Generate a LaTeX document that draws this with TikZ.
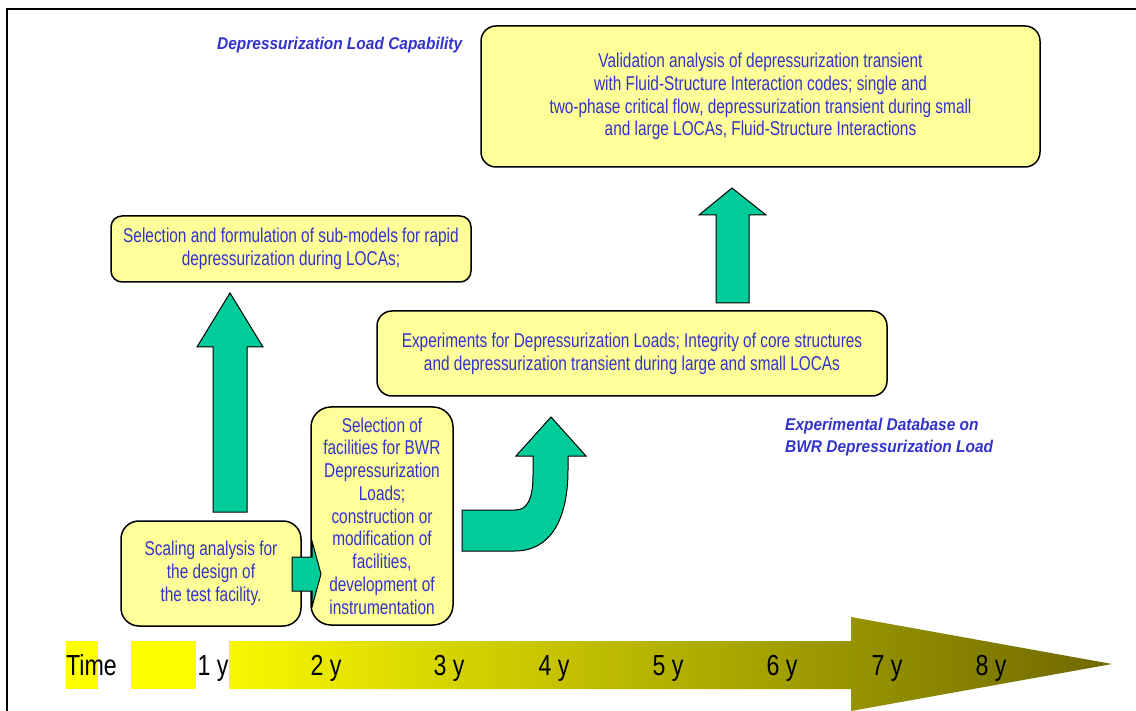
\documentclass[tikz,border=0pt]{standalone}
\usepackage{fontspec}
\setmainfont{Liberation Sans}
\newfontfamily\boxfont[FakeStretch=0.77]{Liberation Sans}
\newfontfamily\tlfont[FakeStretch=0.8]{Liberation Sans}
\newfontfamily\notefont[FakeStretch=0.91]{Liberation Sans}
\usetikzlibrary{calc}
\definecolor{boxfill}{HTML}{FFFF99}
\definecolor{txtblue}{HTML}{3333CC}
\definecolor{arrgreen}{HTML}{00CC99}
\definecolor{tlstart}{RGB}{248,248,0}
\definecolor{tlend}{RGB}{110,105,0}
\definecolor{hiyellow}{RGB}{255,255,0}
\begin{document}
\begin{tikzpicture}[x=1pt,y=-1pt,
  box/.style={draw=black, line width=1.5pt, fill=boxfill, rounded corners=15pt,
    inner sep=0pt, text=txtblue, font=\boxfont\fontsize{20}{22.75}\selectfont, align=center},
  blockarrow/.style={fill=arrgreen, draw=black, line width=1pt, line join=miter},
  tl/.style={font=\tlfont\fontsize{29}{29}\selectfont, text=black, inner sep=0pt, anchor=base},
  note/.style={font=\notefont\bfseries\itshape\fontsize{17}{22}\selectfont, text=txtblue,
    inner sep=0pt, anchor=base west}]
\useasboundingbox (0,0) rectangle (1136,711);
\fill[white] (0,0) rectangle (1136,711);
% frame
\draw[line width=2.5pt] (7,711) -- (7,9) -- (1136,9);

% boxes
\node[box, minimum width=559pt, minimum height=141pt] (val) at (760.5,96.5)
  {\rule{0pt}{6pt}Validation analysis of depressurization transient\\
   with Fluid-Structure Interaction codes; single and\\
   two-phase critical flow, depressurization transient during small\\
   and large LOCAs, Fluid-Structure Interactions};
\node[box, rounded corners=11pt, minimum width=360pt, minimum height=66pt] (sub) at (291,249)
  {Selection and formulation of sub-models for rapid\\
   depressurization during LOCAs;};
\node[box, minimum width=510pt, minimum height=85pt] (exp) at (632,353.5)
  {Experiments for Depressurization Loads; Integrity of core structures\hspace{12pt}\\
   and depressurization transient during large and small LOCAs};
\node[box, rounded corners=20pt, minimum width=142pt, minimum height=218pt] (sel) at (382,516)
  {Selection of\\ facilities for BWR\\ Depressurization\\ Loads;\\ construction or\\
   modification of\\ facilities,\\ development of\\ instrumentation};
\node[box, rounded corners=18pt, minimum width=180pt, minimum height=105pt] (scal) at (211,573.5)
  {Scaling analysis for\\ the design of\\ the test facility.};

% block arrows
\draw[blockarrow] (213,512) -- (213,347) -- (197,347) -- (230,293) -- (263,347)
  -- (247,347) -- (247,512) -- cycle;
\draw[blockarrow] (716,303) -- (716,215) -- (699,215) -- (732,188) -- (766,215)
  -- (749,215) -- (749,303) -- cycle;
\draw[blockarrow] (292,557) -- (312,557) -- (312,541) -- (321,574) -- (312,607)
  -- (312,591) -- (292,591) -- cycle;
\draw[blockarrow] (462,510) -- (515,510) .. controls (527,510) and (533,500) .. (533,475)
  -- (533,456) -- (516,456) -- (551,417) -- (586,456) -- (568,456) -- (568,470)
  .. controls (568,520) and (550,551) .. (515,551) -- (462,551) -- cycle;

% notes
\node[note] (n1) at (217,50) {Depressurization Load Capability};
\node[note, align=left] (n2) at (785,453)
  {Experimental Database on\\ BWR Depressurization Load};

% timeline
\fill[hiyellow] (66,641) rectangle (98,689);
\fill[hiyellow] (131,641) rectangle (196,689);
\shade[left color=tlstart, right color=tlend] (229,641) -- (851,641) -- (851,617)
  -- (1112,664) -- (851,711) -- (851,689) -- (229,689) -- cycle;
\node[tl] (time) at (91.5,675) {Time};
\node[tl] (y1) at (213,675) {1 y};
\node[tl] (y2) at (326,675) {2 y};
\node[tl] (y3) at (449,675) {3 y};
\node[tl] (y4) at (554,675) {4 y};
\node[tl] (y5) at (668,675) {5 y};
\node[tl] (y6) at (782,675) {6 y};
\node[tl] (y7) at (887,675) {7 y};
\node[tl] (y8) at (991,675) {8 y};
\end{tikzpicture}
\end{document}
